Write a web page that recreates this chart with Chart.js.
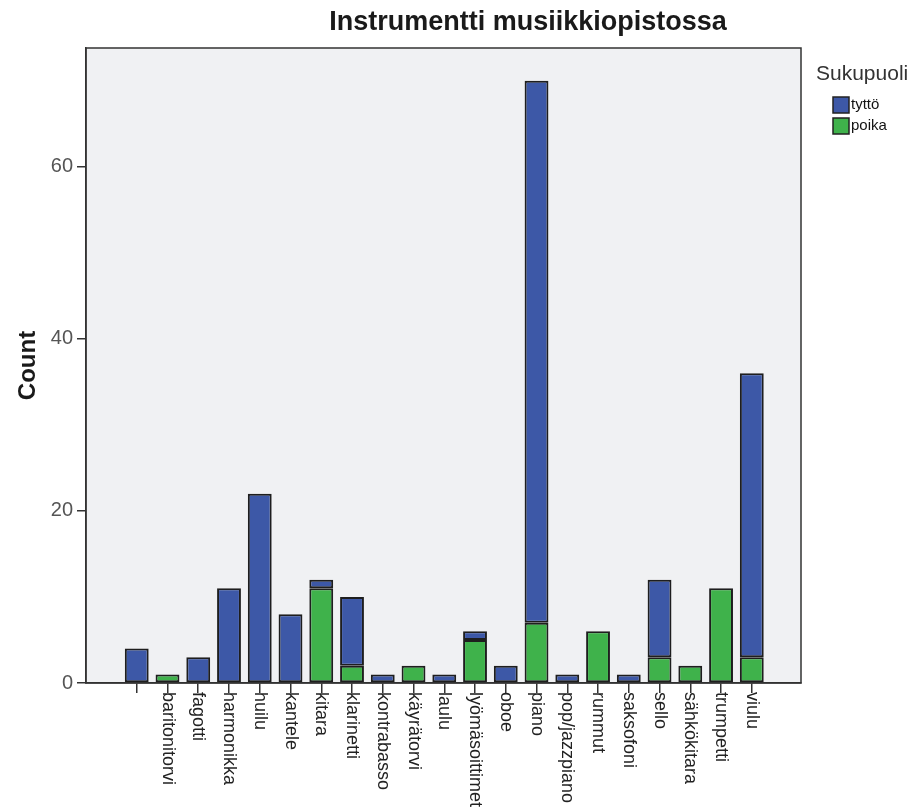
<!DOCTYPE html>
<html>
<head>
<meta charset="utf-8">
<script src="https://cdn.jsdelivr.net/npm/chart.js@4"></script>
<style>
  html, body { margin: 0; padding: 0; background: #fff; }
  #wrap { width: 917px; height: 809px; }
</style>
</head>
<body>
<div id="wrap"><canvas id="instrumentChart" width="917" height="809"></canvas></div>
<script>
// soittimet (x-akseli)
var instruments = ['', 'baritonitorvi', 'fagotti', 'harmonikka', 'huilu', 'kantele', 'kitara',
  'klarinetti', 'kontrabasso', 'käyrätorvi', 'laulu', 'lyömäsoittimet', 'oboe', 'piano',
  'pop/jazzpiano', 'rummut', 'saksofoni', 'sello', 'sähkökitara', 'trumpetti', 'viulu'];
var tytto = [4, 0, 3, 11, 22, 8, 1, 8, 1, 0, 1, 1, 2, 63, 1, 0, 1, 9, 0, 0, 33];
var poika = [0, 1, 0, 0, 0, 0, 11, 2, 0, 2, 0, 5, 0, 7, 0, 6, 0, 3, 2, 11, 3];
var yTicks = [0, 20, 40, 60];

var chartTitle = 'Instrumentti musiikkiopistossa';
var legendTitle = 'Sukupuoli';

function toPoints(values) {
  return values.map(function (v, i) { return { x: i, y: v }; });
}

// taustan ja kehyksen piirto
var framePlugin = {
  id: 'frame',
  beforeDraw: function (chart) {
    var a = chart.chartArea, ctx = chart.ctx;
    ctx.save();
    ctx.fillStyle = '#f0f1f3';
    ctx.fillRect(a.left, a.top, a.right - a.left, a.bottom - a.top);
    ctx.restore();
  },
  afterDraw: function (chart) {
    var a = chart.chartArea, ctx = chart.ctx;
    ctx.save();
    ctx.strokeStyle = '#333';
    ctx.lineWidth = 1.5;
    ctx.strokeRect(a.left, a.top, a.right - a.left, a.bottom - a.top);

    // otsikko
    ctx.fillStyle = '#1a1a1a';
    ctx.font = 'bold 27px "Liberation Sans", Arial, sans-serif';
    ctx.textAlign = 'center';
    ctx.textBaseline = 'alphabetic';
    ctx.fillText(chartTitle, 528, 30);

    // x-akselin nimiöt pystyyn (ylhäältä alas)
    var xs = chart.scales.x;
    ctx.font = '18px "Liberation Sans", Arial, sans-serif';
    ctx.fillStyle = '#222';
    ctx.textAlign = 'left';
    ctx.textBaseline = 'middle';
    xs.ticks.forEach(function (t, i) {
      var px = xs.getPixelForTick(i);
      ctx.save();
      ctx.translate(px, a.bottom + 9);
      ctx.rotate(Math.PI / 2);
      ctx.fillText(instruments[t.value] || '', 0, 0);
      ctx.restore();
    });

    // selite
    ctx.font = '21px "Liberation Sans", Arial, sans-serif';
    ctx.fillStyle = '#333';
    ctx.textBaseline = 'alphabetic';
    ctx.fillText(legendTitle, 816, 80);
    var ds = chart.data.datasets.slice().reverse();
    ctx.font = '15px "Liberation Sans", Arial, sans-serif';
    ds.forEach(function (d, i) {
      var y = 97 + i * 21;
      ctx.fillStyle = d.backgroundColor;
      ctx.fillRect(833, y, 16, 16);
      ctx.strokeStyle = '#222';
      ctx.lineWidth = 1.5;
      ctx.strokeRect(833, y, 16, 16);
      ctx.fillStyle = '#111';
      ctx.textBaseline = 'middle';
      ctx.fillText(d.label, 851, y + 8);
    });
    ctx.restore();
  }
};

var ctx = document.getElementById('instrumentChart').getContext('2d');
var chart = new Chart(ctx, {
  type: 'bar',
  data: {
    datasets: [
      { label: 'poika', data: toPoints(poika), backgroundColor: '#3fb24b' },
      { label: 'tyttö', data: toPoints(tytto), backgroundColor: '#3d58a7' }
    ]
  },
  options: {
    responsive: false,
    animation: false,
    layout: { padding: { top: 48, right: 116, left: 0, bottom: 0 } },
    datasets: {
      bar: {
        borderColor: '#1e1e1e',
        borderWidth: 2,
        borderSkipped: false,
        barPercentage: 0.97,
        categoryPercentage: 0.8
      }
    },
    scales: {
      x: {
        type: 'linear',
        stacked: true,
        offset: false,
        min: -1.65,
        max: 21.6,
        afterBuildTicks: function (s) {
          s.ticks = instruments.map(function (_, i) { return { value: i }; });
        },
        afterFit: function (s) { s.height = 126; },
        ticks: { callback: function () { return ''; }, autoSkip: false, maxRotation: 0 },
        grid: { offset: false, drawOnChartArea: false, drawTicks: true, tickLength: 10, color: '#333', lineWidth: 1.5 },
        border: { display: true, color: '#333', width: 1.5 }
      },
      y: {
        stacked: true,
        min: 0,
        max: 73.8,
        afterBuildTicks: function (s) {
          s.ticks = yTicks.map(function (v) { return { value: v }; });
        },
        afterFit: function (s) { s.width = 86; },
        ticks: {
          color: '#555',
          padding: 4,
          font: { family: '"Liberation Sans", Arial, sans-serif', size: 20 }
        },
        grid: { drawOnChartArea: false, drawTicks: true, tickLength: 9, color: '#333', lineWidth: 1.5 },
        border: { display: true, color: '#333', width: 1.5 },
        title: {
          display: true,
          text: 'Count',
          color: '#1a1a1a',
          padding: { top: 14, bottom: 0 },
          font: { family: '"Liberation Sans", Arial, sans-serif', size: 24, weight: 'bold' }
        }
      }
    },
    plugins: {
      legend: { display: false },
      tooltip: { enabled: false }
    }
  },
  plugins: [framePlugin]
});
</script>
</body>
</html>
